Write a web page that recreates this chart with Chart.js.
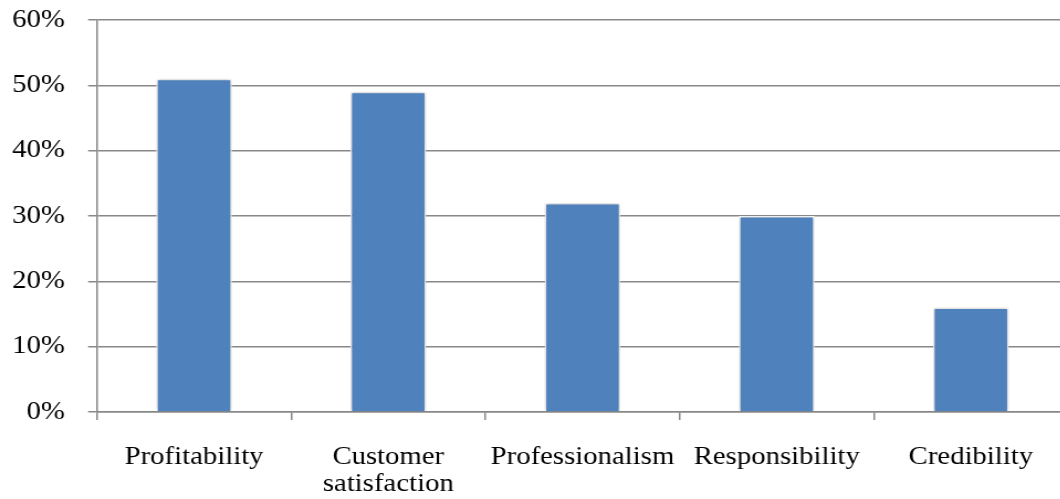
<!DOCTYPE html>
<html>
<head>
<meta charset="utf-8">
<script src="https://cdn.jsdelivr.net/npm/chart.js@4"></script>
<style>
html,body{margin:0;padding:0;background:#fff;overflow:hidden;width:1060px;height:499px;}
#wrap{width:966px;height:499px;position:relative;transform:scaleX(1.1056);transform-origin:0 0;}
</style>
</head>
<body>
<div id="wrap"><canvas id="c" width="966" height="499"></canvas></div>
<script>
const categories = [["Profitability"], ["Customer", "satisfaction"], ["Professionalism"], ["Responsibility"], ["Credibility"]];
const values = [51, 49, 32, 30, 16];
const yTicks = [0, 10, 20, 30, 40, 50, 60];

const shadowPlugin = {
  id: 'barShadow',
  beforeDatasetDraw(chart) {
    const ctx = chart.ctx;
    ctx.save();
    ctx.shadowColor = 'rgba(0,0,0,0.28)';
    ctx.shadowBlur = 4;
    ctx.shadowOffsetX = 0;
    ctx.shadowOffsetY = 0;
  },
  afterDatasetDraw(chart) {
    chart.ctx.restore();
  }
};

new Chart(document.getElementById('c'), {
  type: 'bar',
  data: {
    labels: categories,
    datasets: [{
      data: values,
      backgroundColor: '#4F81BD',
      borderColor: '#ffffff',
      borderWidth: 1.5,
      categoryPercentage: 1,
      barPercentage: 0.39
    }]
  },
  plugins: [shadowPlugin],
  options: {
    responsive: false,
    animation: false,
    devicePixelRatio: 1,
    layout: { padding: { top: 20, right: 0, left: 0, bottom: 0 } },
    plugins: { legend: { display: false }, tooltip: { enabled: false } },
    scales: {
      x: {
        afterFit(scale) { scale.height = 87; scale.paddingLeft = 0; scale.paddingRight = 0; },
        grid: { display: true, drawOnChartArea: false, drawTicks: true, tickLength: 8, color: '#888', offset: true, lineWidth: 1.5 },
        border: { color: '#888', width: 1.5 },
        ticks: { color: '#000', font: { family: 'Liberation Serif', size: 26, lineHeight: 1.04 }, padding: 23.5, maxRotation: 0, autoSkip: false },
      },
      y: {
        min: 0, max: 60,
        afterFit(scale) { scale.width = 87.7; scale.paddingTop = 0; scale.paddingBottom = 0; },
        afterBuildTicks(scale) { scale.ticks = yTicks.map(v => ({ value: v })); },
        grid: { color: '#888', lineWidth: 1.5, drawTicks: true, tickLength: 8 },
        border: { color: '#888', width: 1.5 },
        ticks: { color: '#000', font: { family: 'Liberation Serif', size: 26 }, padding: 21, callback: v => v + '%' }
      }
    }
  }
});
</script>
</body>
</html>
